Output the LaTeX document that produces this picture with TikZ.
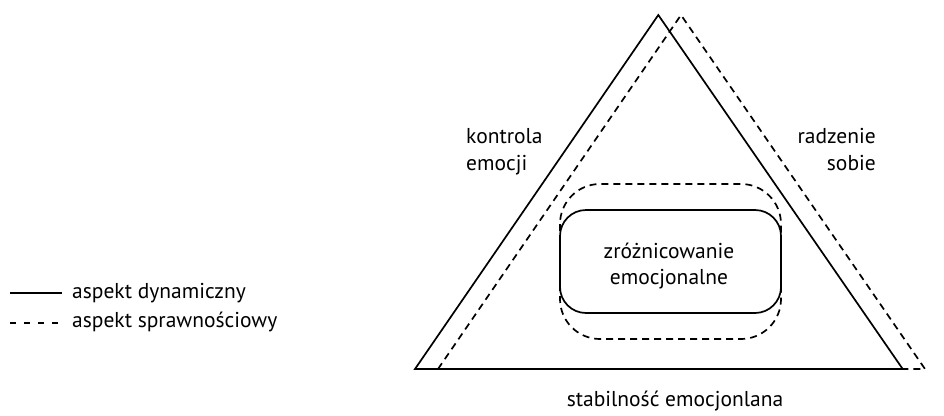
\documentclass[tikz,border=0pt]{standalone}
\usepackage{fontspec}
\setmainfont{PT Sans}
\begin{document}
\begin{tikzpicture}[x=1pt,y=-1pt,
  solidln/.style={line width=1.7pt, line join=miter},
  dashln/.style={line width=1.7pt, dash pattern=on 7pt off 5pt},
  lbl/.style={font=\fontsize{21.5}{27}\selectfont, inner sep=0pt},
]
\useasboundingbox (0,0) rectangle (944,415);
% triangles
\coordinate (sA) at (658.3,15);
\coordinate (sL) at (415,369);
\coordinate (sR) at (902.7,369);
\coordinate (dA) at (681,15);
\coordinate (dL) at (438,369);
\coordinate (dR) at (925,369);
\draw[dashln] (dL) -- (dA) -- (dR) -- (sR);
\draw[solidln] (sL) -- (sA) -- (sR) -- cycle;
% rounded boxes
\draw[dashln, rounded corners=40pt] (560,184) rectangle (781,339);
\node[draw, solidln, rounded corners=26pt, minimum width=221pt, minimum height=103pt, inner sep=0pt] (box) at (670.5,261.5) {};
\node[lbl, anchor=base] (z1) at (669,258) {zróżnicowanie};
\node[lbl, anchor=base] (z2) at (669,284) {emocjonalne};
% side labels
\node[lbl, anchor=base west] (k1) at (466,143) {kontrola};
\node[lbl, anchor=base west] (k2) at (466,170) {emocji};
\node[lbl, anchor=base east] (r1) at (876,143) {radzenie};
\node[lbl, anchor=base east] (r2) at (876,170) {sobie};
\node[lbl, anchor=base] (se) at (675,406) {stabilność emocjonlana};
% legend
\coordinate (l1a) at (10,293);
\coordinate (l1b) at (62,293);
\coordinate (l2a) at (10,323);
\coordinate (l2b) at (62,323);
\draw[solidln] (l1a) -- (l1b);
\draw[dashln, dash pattern=on 6pt off 8pt] (l2a) -- (l2b);
\node[lbl, anchor=base west] (ad) at (72,298) {aspekt dynamiczny};
\node[lbl, anchor=base west] (as) at (72,327) {aspekt sprawnościowy};
\end{tikzpicture}
\end{document}
